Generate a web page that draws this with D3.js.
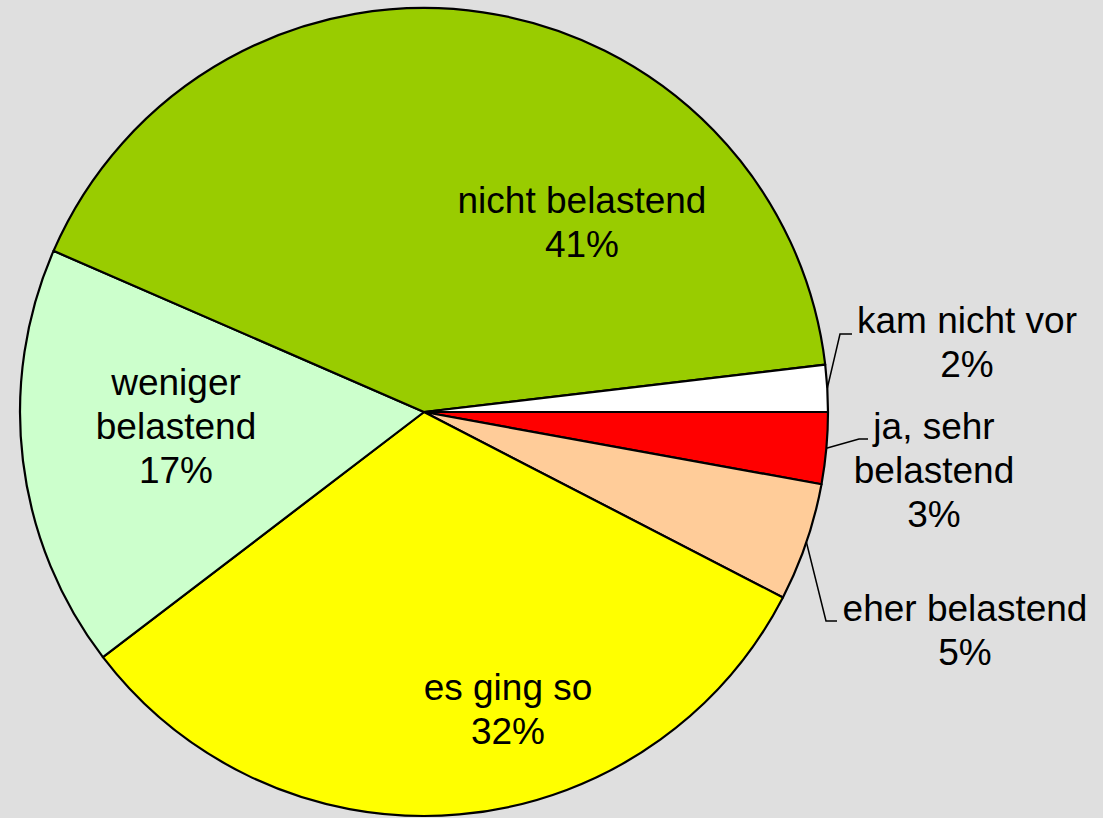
<!DOCTYPE html>
<html><head><meta charset="utf-8">
<script src="https://cdn.jsdelivr.net/npm/d3@7"></script>
<style>html,body{margin:0;padding:0;background:#dfdfdf;}svg{display:block;}</style>
</head><body>
<script>
const categories = ["ja, sehr belastend","eher belastend","es ging so","weniger belastend","nicht belastend","kam nicht vor"];
const shares = [2.86, 4.73, 32.03, 16.91, 41.6, 1.87];
const pctLabels = ["3%","5%","32%","17%","41%","2%"];
const labelLines = [["ja, sehr","belastend"],["eher belastend"],["es ging so"],["weniger","belastend"],["nicht belastend"],["kam nicht vor"]];
const colors = ["#ff0000","#ffcc99","#ffff00","#ccffcc","#99cc00","#ffffff"];

const W=1103,H=818, cx=424, cy=412, R=404;
const svg=d3.select("body").append("svg").attr("width",W).attr("height",H);
svg.append("rect").attr("width",W).attr("height",H).attr("fill","#dfdfdf");
const g=svg.append("g").attr("transform",`translate(${cx},${cy})`);
const pie=d3.pie().sort(null).value(d=>d).startAngle(Math.PI/2).endAngle(Math.PI/2+2*Math.PI);
const arcs=pie(shares);
const arc=d3.arc().innerRadius(0).outerRadius(R);
g.selectAll("path.slice").data(arcs).enter().append("path").attr("class","slice")
  .attr("d",arc).attr("fill",(d,i)=>colors[i]).attr("stroke","#000").attr("stroke-width",2.2).attr("stroke-linejoin","round");

// label layout: [centerX, firstBaseline] in page coords; leader: [elbowX, elbowY, endX] or null
const layout = [
  {x:934, y:439, leader:[859,439,868]},
  {x:965, y:621, leader:[826,621,837]},
  {x:508, y:700, leader:null},
  {x:176, y:395, leader:null},
  {x:582, y:213, leader:null},
  {x:967, y:333, leader:[840,334,852]}
];
const lh=44;
const root=svg.append("g");
arcs.forEach((d,i)=>{
  const L=layout[i];
  const lines=labelLines[i].concat([pctLabels[i]]);
  const t=root.append("text").attr("text-anchor","middle")
    .attr("font-family","'Liberation Sans', Arial, sans-serif").attr("font-size",37).attr("fill","#000");
  lines.forEach((s,k)=>t.append("tspan").attr("x",L.x).attr("y",L.y+k*lh).text(s));
  if(L.leader){
    const a=(d.startAngle+d.endAngle)/2;
    const sx=cx+Math.sin(a)*R, sy=cy-Math.cos(a)*R;
    root.append("polyline").attr("points",`${sx},${sy} ${L.leader[0]},${L.leader[1]} ${L.leader[2]},${L.leader[1]}`)
      .attr("fill","none").attr("stroke","#000").attr("stroke-width",1.5);
  }
});
</script>
</body></html>
